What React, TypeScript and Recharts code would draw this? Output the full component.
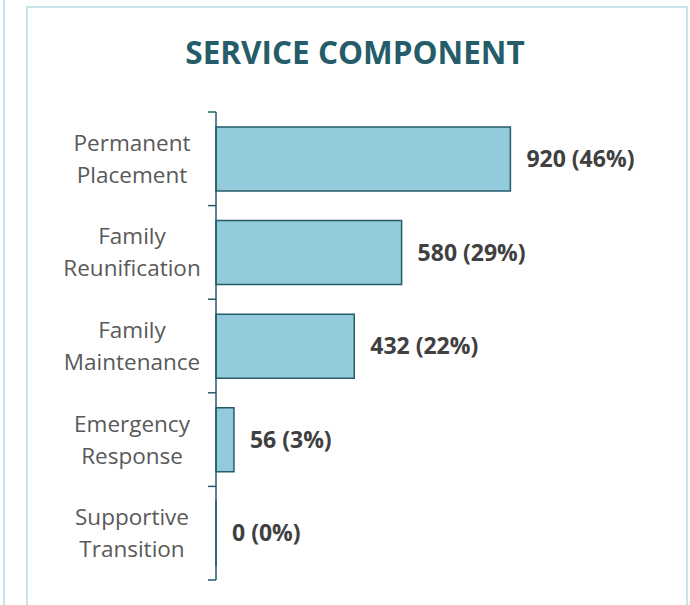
import { Bar, BarChart, LabelList, XAxis, YAxis } from "recharts";

const categories = [
  ["Permanent", "Placement"],
  ["Family", "Reunification"],
  ["Family", "Maintenance"],
  ["Emergency", "Response"],
  ["Supportive", "Transition"],
];
const counts = [920, 580, 432, 56, 0];
const percents = [46, 29, 22, 3, 0];

const W = 690;
const H = 605;
const MARGIN = { top: 112, right: 154, bottom: 25, left: 0 };
const AXIS_W = 216;
const TEAL = "#245c6a";
const BAND = (H - MARGIN.top - MARGIN.bottom) / categories.length;

const data = categories.map((lines, i) => ({
  name: lines.join("\n"),
  count: counts[i],
  pct: percents[i],
}));

// category label in two lines, plus the boundary tick marks above (and below the last) band
function CategoryTick(props: any) {
  const { x, y, payload, index } = props;
  const lines = String(payload.value).split("\n");
  const last = index === categories.length - 1;
  return (
    <g>
      <line x1={x - 8} x2={x} y1={y - BAND / 2} y2={y - BAND / 2} stroke={TEAL} strokeWidth={1.5} />
      {last && (
        <line x1={x - 8} x2={x} y1={y + BAND / 2} y2={y + BAND / 2} stroke={TEAL} strokeWidth={1.5} />
      )}
      <text
        x={x - 84}
        textAnchor="middle"
        fill="#595959"
        fontSize={22.5}
        fontFamily="'Open Sans', sans-serif"
      >
        {lines.map((l, k) => (
          <tspan key={k} x={x - 84} y={y + (k === 0 ? -8 : 24)}>
            {l}
          </tspan>
        ))}
      </text>
    </g>
  );
}

function ValueLabel(props: any) {
  const { x, y, width, height, index } = props;
  return (
    <text
      x={x + width + 16}
      y={y + height / 2}
      dy={8}
      fill="#404040"
      fontSize={23}
      fontWeight="bold"
      fontFamily="'Open Sans', sans-serif"
    >
      {`${counts[index]} (${percents[index]}%)`}
    </text>
  );
}

export default function App() {
  return (
    <div
      style={{
        position: "absolute",
        left: 0,
        top: 0,
        width: W,
        height: H,
        overflow: "hidden",
        background: "#fff",
      }}
    >
      <div
        style={{
          position: "absolute",
          left: 3,
          top: 0,
          width: 0,
          height: H,
          borderLeft: "2px solid #c5e4ec",
        }}
      />
      <div
        style={{
          position: "absolute",
          left: 26,
          top: 6,
          width: 658,
          height: H + 20,
          border: "2px solid #c5e4ec",
        }}
      />
      <div
        style={{
          position: "absolute",
          left: 0,
          top: 30,
          width: 710,
          textAlign: "center",
          color: TEAL,
          fontSize: 31.5,
          fontWeight: "bold",
          fontFamily: "'Open Sans', sans-serif",
          lineHeight: "44px",
        }}
      >
        SERVICE COMPONENT
      </div>
      <div style={{ position: "absolute", left: 0, top: 0 }}>
        <BarChart
          width={W}
          height={H}
          data={data}
          layout="vertical"
          margin={MARGIN}
          barCategoryGap="16%"
        >
          <XAxis type="number" hide domain={[0, 1000]} />
          <YAxis
            type="category"
            dataKey="name"
            width={AXIS_W}
            axisLine={{ stroke: TEAL, strokeWidth: 1.5 }}
            tickLine={false}
            tickSize={0}
            tickMargin={0}
            tick={<CategoryTick />}
            interval={0}
          />
          <Bar
            dataKey="count"
            fill="#94cbdc"
            stroke={TEAL}
            strokeWidth={1.5}
            minPointSize={(v: number) => (v === 0 ? 0.01 : 0)}
            isAnimationActive={false}
          >
            <LabelList dataKey="count" content={<ValueLabel />} />
          </Bar>
        </BarChart>
      </div>
    </div>
  );
}
